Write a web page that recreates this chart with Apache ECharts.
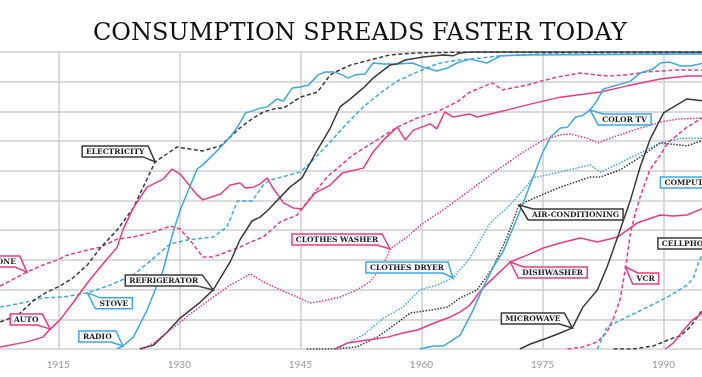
<!DOCTYPE html>
<html>
<head>
<meta charset="utf-8">
<script src="https://cdn.jsdelivr.net/npm/echarts@6/dist/echarts.min.js"></script>
<style>
  html, body { margin: 0; padding: 0; background: #fff; }
  #chart { width: 702px; height: 377px; }
</style>
</head>
<body>
<div id="chart"></div>
<script>
// share of US households owning each product, [year, percent]
const electricity = [[1907.8, 9.1], [1910, 11.4], [1912, 16.5], [1913.6, 19.2], [1915.2, 21.2], [1916.8, 23.9], [1918.6, 28.3], [1920.2, 34], [1922.3, 40.1], [1924.3, 47.5], [1927, 63], [1929.7, 68], [1932.9, 66.7], [1935.1, 68.4], [1937.5, 74.4], [1938.8, 77.1], [1940.4, 79.8], [1942.1, 81.1], [1942.9, 81.1], [1945, 84.8], [1947.1, 86.5], [1948.7, 92.3], [1949.6, 93.6], [1951.2, 95.6], [1953.6, 97.3], [1956.1, 99], [1959.5, 99.7], [1966, 100], [1995, 100]];
const telephone = [[1907.8, 21.2], [1911.1, 25.9], [1913.1, 28.3], [1914.9, 30], [1916.1, 31.6], [1917.7, 32.7], [1920.2, 34.3], [1922.3, 37], [1924.3, 37.7], [1926.8, 39.4], [1928.9, 41.4], [1930.1, 40.4], [1931.3, 36.7], [1932.9, 31], [1934.2, 31], [1935.9, 32.7], [1937.5, 34.3], [1938.8, 36], [1940.4, 37.7], [1942.5, 42.8], [1944.6, 45.1], [1945.8, 49.5], [1948.3, 57.9], [1951.5, 65.3], [1954.5, 70.4], [1957, 74.7], [1959.5, 77.8], [1961.9, 79.8], [1964.4, 83.2], [1966, 86.5], [1968.8, 89.6], [1970, 87.2], [1973.1, 88.9], [1976.8, 91.6], [1979.7, 92.9], [1983, 91.9], [1985.5, 92.3], [1988, 93.3], [1991.2, 93.9], [1995, 93.9]];
const auto = [[1907.8, 0.7], [1911.1, 2.4], [1913.1, 4], [1914, 6.7], [1915.2, 9.8], [1916.8, 15.5], [1918.6, 22.2], [1920.2, 27.6], [1922.3, 34.3], [1923, 40.1], [1924.3, 47.5], [1926, 54.5], [1928, 57.2], [1929.1, 60.6], [1930.1, 58.9], [1932.2, 51.9], [1932.9, 50.2], [1935.1, 52.2], [1936.3, 55.2], [1937.5, 55.9], [1938.2, 54.2], [1939.2, 54.5], [1940, 55.6], [1940.9, 57.6], [1941.6, 54.2], [1942.9, 49.2], [1944.1, 47.5], [1945.2, 47.1], [1946.8, 52.5], [1948.7, 55.2], [1950.2, 59.3], [1951.2, 59.9], [1952.8, 60.9], [1954, 66.3], [1955.3, 70.4], [1957, 74.7], [1958, 70.4], [1959, 73.7], [1961.1, 75.8], [1961.9, 74.1], [1962.9, 79.8], [1963.9, 78.1], [1966, 79.1], [1966.9, 78.1], [1970.1, 80.1], [1973.1, 82.2], [1977.2, 84.8], [1982.2, 86.5], [1985.5, 88.6], [1989.6, 90.9], [1992.9, 91.9], [1995, 91.9]];
const stove = [[1907.8, 14.1], [1911.1, 15.8], [1913.1, 17.2], [1915.6, 17.5], [1918.6, 18.9], [1921.4, 21.5], [1924.3, 24.9], [1926.8, 30.6], [1928.9, 35.4], [1931, 36.7], [1934.2, 37.7], [1935.9, 41.1], [1937.2, 49.8], [1939, 49.8], [1940.4, 55.2], [1941.3, 56.9], [1945, 59.6], [1946.2, 62.6], [1948.7, 69.7], [1950.8, 76.1], [1952.8, 81.5], [1954.9, 86.2], [1957, 90.2], [1959.5, 93.3], [1961.9, 96], [1964.4, 97.3], [1966, 97.6], [1969.8, 98.7], [1977.2, 99.7], [1995, 99.7]];
const radio = [[1922.3, 0], [1923, 1], [1924.3, 4], [1926, 13.1], [1928, 26.6], [1929.2, 39.1], [1930.1, 46.8], [1932.2, 60.6], [1932.9, 62], [1934.6, 66.5], [1936.3, 71.4], [1937.2, 74.7], [1938.2, 79.5], [1939, 80.1], [1940, 81.1], [1940.9, 81.5], [1942.1, 84.2], [1942.9, 83.5], [1944, 87.9], [1945, 88.2], [1946, 88.9], [1947.2, 92.3], [1948.1, 93.3], [1949.1, 93.3], [1950.2, 92.3], [1950.9, 91.2], [1951.8, 92.3], [1953, 92.6], [1954, 96.3], [1955.3, 96], [1957, 96], [1958.9, 96.3], [1960.2, 94.9], [1961.9, 93.6], [1963.2, 94.6], [1964.4, 96.3], [1966, 97.6], [1968.1, 96.3], [1969.8, 98.7], [1973.1, 99], [1995, 99.3]];
const refrigerator = [[1925.1, 0], [1926.8, 1.3], [1928.5, 5.7], [1930.1, 10.4], [1932.6, 15.8], [1934.2, 19.9], [1935.9, 27.6], [1936.3, 29.3], [1937.5, 36.7], [1939, 43.1], [1940, 44.4], [1941, 46.8], [1943.7, 54.5], [1945.2, 57.6], [1947.1, 67], [1948.7, 74.4], [1949.9, 81.5], [1951.2, 84.2], [1952.8, 87.9], [1954, 91.2], [1956.1, 95.6], [1957, 96], [1958, 97.3], [1960.2, 98.3], [1962.7, 99], [1963.9, 98.7], [1964.8, 99.7], [1966, 100], [1995, 100]];
const clothesWasher = [[1925.5, 0], [1926.8, 2], [1929.2, 7.1], [1931.7, 12.5], [1934.2, 17.5], [1936.3, 21.5], [1938.8, 25.3], [1940.4, 22.6], [1942.5, 19.9], [1944.6, 17.5], [1946.2, 15.5], [1947.8, 16.2], [1949.9, 17.5], [1952, 19.9], [1953.6, 22.6], [1955.3, 28.3], [1956.1, 33.7], [1958.2, 37.7], [1960.2, 42.4], [1962.3, 46.1], [1964.4, 50.2], [1968.9, 59.3], [1972.6, 66.3], [1975.1, 70.4], [1977.2, 72.1], [1978.4, 72.4], [1980.5, 71], [1981.9, 69.4], [1983.8, 71.4], [1987.1, 74.4], [1989.6, 76.4], [1991.7, 77.4], [1995, 77.8]];
const clothesDryer = [[1949.3, 0], [1949.9, 0.7], [1952.8, 4.7], [1955.3, 10.4], [1957.7, 14.1], [1959.8, 19.9], [1961.9, 21.5], [1963.9, 23.9], [1966, 30.6], [1968.5, 42.4], [1971, 48.5], [1973.1, 55.2], [1973.8, 57.6], [1977.2, 59.6], [1980.9, 62], [1982.2, 59.6], [1984.6, 62.6], [1987.1, 66], [1989.6, 69.4], [1992.1, 71], [1995, 71]];
const airConditioning = [[1945.8, 0], [1949.1, 0], [1952, 0.7], [1954.5, 4], [1957, 8.8], [1958.6, 12.1], [1961.1, 13.1], [1963.2, 14.1], [1964.8, 17.2], [1966.9, 19.9], [1968.9, 27.6], [1970.6, 37.7], [1972.1, 48.5], [1974.3, 51.2], [1977.2, 54.5], [1980.9, 57.9], [1982.2, 57.9], [1984.6, 60.3], [1987.1, 64.6], [1989.6, 69.4], [1992.9, 68.4], [1995, 70.4]];
const dishwasher = [[1949.3, 0], [1950.8, 2], [1953.3, 3], [1955.8, 4], [1957.7, 5.4], [1959.5, 6.4], [1961.9, 9.1], [1963.6, 10.8], [1964.8, 12.5], [1966, 14.8], [1967.6, 20.5], [1971, 29.3], [1973.1, 31.6], [1975.1, 34], [1977.2, 35.7], [1979.7, 37.4], [1981.8, 36], [1984.3, 37.7], [1986.7, 42.4], [1989.6, 45.1], [1991.2, 44.8], [1992.9, 45.1], [1995, 47.5]];
const colorTv = [[1959.8, 0], [1961.5, 1], [1962.7, 1], [1964.8, 4.7], [1966.4, 13.1], [1967.5, 19.9], [1968.9, 27.6], [1970.1, 32.7], [1971.4, 41.1], [1972.5, 48.5], [1973.7, 56.9], [1975, 66], [1976, 71.4], [1977.2, 74.4], [1978.1, 74.7], [1979.1, 78.1], [1979.9, 78.5], [1980.9, 80.5], [1981.8, 83.8], [1982.5, 87.5], [1984.3, 88.9], [1985.9, 90.2], [1987.1, 92.9], [1988.7, 94.3], [1989.6, 96.3], [1990.8, 96.6], [1992.1, 95.3], [1993.3, 95.3], [1995, 96.3]];
const microwave = [[1972.2, 0], [1973.5, 1.7], [1975.6, 3.7], [1977.2, 5.4], [1978.7, 7.1], [1980, 14.1], [1981.8, 19.9], [1983, 27.6], [1984.4, 38.4], [1985.9, 50.2], [1987.1, 61.3], [1988.3, 70.4], [1990, 79.5], [1992.9, 84.2], [1995, 83.5]];
const vcr = [[1978.1, 0], [1980, 0.7], [1981.8, 2.4], [1983, 5.7], [1983.8, 10.4], [1984.6, 16.5], [1985.3, 27.6], [1985.9, 39.1], [1986.5, 45.8], [1987.1, 51.2], [1988.3, 60.3], [1989.6, 65.3], [1990.5, 69.4], [1992.9, 74.7], [1995, 78.1]];
const computer = [[1981.8, 0], [1983, 7.4], [1985.5, 10.8], [1988, 14.1], [1990.5, 17.5], [1992.9, 21.5], [1993.7, 23.9], [1994.4, 29.6], [1995, 32.7]];
const cellphone = [[1983.8, 0], [1986.2, 0], [1988.7, 1], [1991.2, 3.7], [1992.1, 4.4], [1993.3, 7.4], [1994.2, 10.8], [1995, 14]];
const internet = [[1990.2, 0], [1991.2, 2], [1992.5, 6.4], [1993.6, 9.8], [1995, 12.5]];

const PINK = '#ec3b80';
const BLUE = '#3ea7e5';
const BLACK = '#3a3a3a';
const DASH = [4, 2.5];
const DOT = [1.5, 1.5];

const lines = [
  { name: 'Telephone', data: telephone, color: PINK, dash: DASH },
  { name: 'Stove', data: stove, color: BLUE, dash: DASH },
  { name: 'Electricity', data: electricity, color: BLACK, dash: DASH },
  { name: 'Auto', data: auto, color: PINK, dash: 'solid' },
  { name: 'Radio', data: radio, color: BLUE, dash: 'solid' },
  { name: 'Refrigerator', data: refrigerator, color: BLACK, dash: 'solid' },
  { name: 'Clothes washer', data: clothesWasher, color: PINK, dash: DOT },
  { name: 'Clothes dryer', data: clothesDryer, color: BLUE, dash: DOT },
  { name: 'Air-conditioning', data: airConditioning, color: BLACK, dash: DOT },
  { name: 'Dishwasher', data: dishwasher, color: PINK, dash: 'solid' },
  { name: 'Color TV', data: colorTv, color: BLUE, dash: 'solid' },
  { name: 'Microwave', data: microwave, color: BLACK, dash: 'solid' },
  { name: 'VCR', data: vcr, color: PINK, dash: DASH },
  { name: 'Computer', data: computer, color: BLUE, dash: DASH },
  { name: 'Cellphone', data: cellphone, color: BLACK, dash: DASH },
  { name: 'Internet', data: internet, color: PINK, dash: 'solid' }
];

// callout boxes: 'at' is the index of the point the tail touches
const callouts = [
  { text: 'TELEPHONE', line: 'Telephone', at: 1, side: 'left', dx: 7, dy: 5 },
  { text: 'AUTO', line: 'Auto', at: 3, side: 'left', dx: 8, dy: 4 },
  { text: 'RADIO', line: 'Radio', at: 1, side: 'left', dx: 7, dy: 4 },
  { text: 'STOVE', line: 'Stove', at: 4, side: 'right', dx: 8, dy: 5 },
  { text: 'ELECTRICITY', line: 'Electricity', at: 10, side: 'left', dx: 7, dy: 5 },
  { text: 'REFRIGERATOR', line: 'Refrigerator', at: 5, side: 'left', dx: 11, dy: 4 },
  { text: 'CLOTHES WASHER', line: 'Clothes washer', at: 16, side: 'left', dx: 8, dy: 4 },
  { text: 'CLOTHES DRYER', line: 'Clothes dryer', at: 7, side: 'left', dx: 5, dy: 5 },
  { text: 'AIR-CONDITIONING', line: 'Air-conditioning', at: 12, side: 'right', dx: 9, dy: 4 },
  { text: 'DISHWASHER', line: 'Dishwasher', at: 11, side: 'right', dx: 8, dy: 5 },
  { text: 'MICROWAVE', line: 'Microwave', at: 4, side: 'left', dx: 8, dy: 4 },
  { text: 'VCR', line: 'VCR', at: 6, side: 'right', dx: 7, dy: 6 },
  { text: 'COLOR TV', line: 'Color TV', at: 17, side: 'right', dx: 8, dy: 4 },
  { text: 'COMPUTER', line: 'Computer', box: [1989.6, 57.9] },
  { text: 'CELLPHONE', line: 'Cellphone', box: [1989.3, 37.4] }
];

const LABEL_FONT = 'bold 7.5px "DejaVu Serif", serif';
const GRID_COLOR = '#cfcfcf';

const chart = echarts.init(document.getElementById('chart'), null, { renderer: 'canvas' });

const option = {
  animation: false,
  backgroundColor: '#fff',
  title: {
    text: 'CONSUMPTION SPREADS FASTER TODAY',
    left: 88,
    top: 17,
    textStyle: { fontFamily: '"DejaVu Serif", serif', fontSize: 24, fontWeight: 'normal', color: '#111' }
  },
  grid: { left: -62.75, width: 847.35, top: 52, bottom: 28, containLabel: false, outerBoundsMode: 'none' },
  xAxis: {
    type: 'value',
    min: 1900,
    max: 2005,
    interval: 15,
    axisLine: { show: false },
    axisTick: { show: false },
    axisLabel: { color: '#9a9a9a', fontSize: 10, fontFamily: 'Lato, sans-serif', margin: 11, formatter: v => String(v) },
    splitLine: { show: true, lineStyle: { color: GRID_COLOR, width: 1.5 } }
  },
  yAxis: {
    type: 'value',
    min: 0,
    max: 100,
    interval: 10,
    axisLine: { show: false },
    axisTick: { show: false },
    axisLabel: { show: false },
    splitLine: { show: true, lineStyle: { color: GRID_COLOR, width: 1.5 } }
  },
  series: lines.map(l => ({
    name: l.name,
    type: 'line',
    data: l.data,
    symbol: 'none',
    smooth: false,
    lineStyle: { color: l.color, width: 1.5, type: l.dash },
    itemStyle: { color: l.color }
  }))
};

chart.setOption(option);

// draw the callout boxes with a pointed tail onto their line
function drawCallouts() {
  const ctx = document.createElement('canvas').getContext('2d');
  ctx.font = LABEL_FONT;
  const els = [];
  callouts.forEach(c => {
    const l = lines.find(s => s.name === c.line);
    const w = Math.round(ctx.measureText(c.text).width) + 8;
    const h = 11;
    let bx, by, pts;
    if (c.box) {
      const p = chart.convertToPixel({ gridIndex: 0 }, c.box);
      bx = p[0]; by = p[1];
      pts = [[bx, by], [bx + w, by], [bx + w, by + h], [bx, by + h]];
    } else {
      const p = chart.convertToPixel({ gridIndex: 0 }, l.data[c.at]);
      if (c.side === 'left') {
        bx = p[0] - c.dx - w; by = p[1] - c.dy - h;
        pts = [[bx, by], [bx + w, by], p, [bx + w - 5, by + h], [bx, by + h]];
      } else {
        bx = p[0] + c.dx; by = p[1] + c.dy;
        pts = [p, [bx + 5, by], [bx + w, by], [bx + w, by + h], [bx, by + h]];
      }
    }
    els.push({
      type: 'polygon', z: 100, silent: true,
      shape: { points: pts },
      style: { fill: '#fff', stroke: l.color, lineWidth: 1.5 }
    });
    els.push({
      type: 'text', z: 101, silent: true,
      x: bx + w / 2, y: by + h / 2 + 0.5,
      style: { text: c.text, font: LABEL_FONT, fill: '#1e1e1e', align: 'center', verticalAlign: 'middle', textAlign: 'center', textVerticalAlign: 'middle' }
    });
  });
  chart.setOption({ graphic: { elements: els } });
}

drawCallouts();
window.addEventListener('resize', chart.resize);
</script>
</body>
</html>
